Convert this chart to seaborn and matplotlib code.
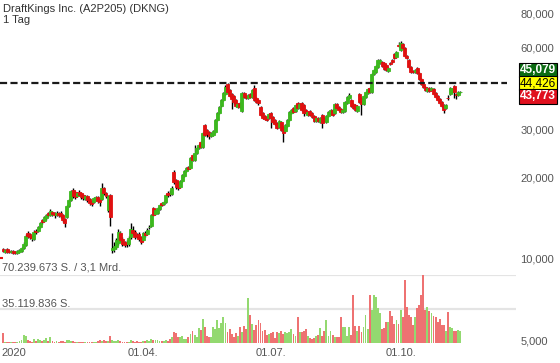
import numpy as np
import pandas as pd
import matplotlib
matplotlib.use("Agg")
import matplotlib.pyplot as plt
import matplotlib.transforms as mtransforms
from matplotlib.ticker import NullLocator
import seaborn as sns

# daily candles, one per trading day (late Dec 2019 .. Nov 2020)
opens = [
    10.86, 10.59, 10.86, 10.68, 10.59, 10.68, 10.59, 10.50, 10.59, 10.68,
    10.95, 11.23, 12.44, 12.33, 12.12, 11.82, 12.65, 12.65, 13.09, 13.89,
    13.77, 14.13, 14.74, 14.49, 14.87, 14.74, 14.49, 14.74, 14.74, 14.49,
    14.01, 14.25, 15.65, 16.46, 17.92, 17.62, 17.03, 17.62, 17.47, 17.18,
    16.61, 17.03, 16.61, 16.33, 16.19, 16.46, 16.89, 16.61, 16.61, 18.23,
    17.47, 15.12, 17.18, 10.77, 10.86, 11.04, 11.42, 12.44, 11.82, 11.52,
    11.42, 11.33, 12.02, 12.76, 12.54, 12.23, 12.33, 12.02, 11.72, 12.44,
    12.33, 13.05, 13.20, 15.38, 14.62, 14.74, 15.25, 16.05, 15.91, 16.19,
    17.47, 17.47, 17.33, 20.88, 19.51, 19.18, 18.39, 19.35, 20.19, 21.06,
    21.79, 21.60, 24.13, 23.12, 24.54, 25.60, 26.94, 25.82, 31.12, 29.83,
    29.32, 28.35, 28.59, 29.32, 32.47, 34.46, 36.57, 38.48, 40.49, 44.09,
    41.89, 40.49, 39.81, 38.48, 36.26, 37.52, 35.05, 40.84, 39.81, 39.14,
    40.49, 39.48, 42.61, 39.14, 38.48, 36.26, 34.46, 33.59, 33.31, 33.03,
    34.46, 33.31, 32.47, 31.65, 30.60, 31.92, 30.60, 29.57, 30.86, 32.47,
    34.46, 35.96, 35.05, 37.52, 35.96, 37.52, 36.88, 35.35, 33.88, 35.05,
    34.46, 33.59, 32.20, 33.03, 31.92, 33.88, 33.03, 31.92, 33.59, 34.17,
    35.35, 34.46, 37.20, 36.26, 35.65, 34.75, 35.05, 37.52, 39.14, 38.48,
    37.20, 36.88, 35.05, 40.49, 39.14, 37.20, 39.48, 40.84, 42.61, 41.19,
    47.99, 48.81, 50.92, 52.68, 53.13, 52.68, 51.80, 49.23, 52.68, 54.04,
    56.87, 55.44, 61.38, 58.83, 61.91, 59.84, 55.91, 54.04, 50.92, 49.23,
    48.81, 50.49, 48.40, 45.99, 44.09, 42.98, 41.54, 42.61, 41.89, 42.25,
    40.84, 39.81, 38.81, 37.84, 36.88, 35.96, 39.14, 40.49, 41.19, 43.34,
    40.49, 40.15, 41.19,
]
highs = [
    10.95, 10.86, 10.95, 10.77, 10.77, 10.77, 10.68, 10.77, 10.86, 11.04,
    11.52, 12.33, 12.65, 12.44, 12.23, 12.76, 12.86, 13.20, 13.66, 14.01,
    14.37, 14.62, 14.87, 15.25, 14.99, 14.87, 14.99, 14.87, 14.99, 14.62,
    14.13, 15.78, 16.61, 17.92, 18.23, 17.77, 17.62, 17.92, 17.62, 17.33,
    17.18, 17.18, 16.75, 16.46, 16.89, 17.03, 17.03, 16.75, 19.02, 18.39,
    17.62, 17.18, 17.33, 12.44, 11.52, 11.92, 12.86, 12.65, 12.02, 11.62,
    11.72, 12.12, 13.54, 13.20, 12.76, 12.44, 12.54, 12.12, 12.54, 12.65,
    12.97, 13.31, 14.62, 15.51, 15.25, 15.51, 15.91, 16.19, 16.33, 17.33,
    17.77, 17.92, 18.54, 21.24, 19.68, 19.35, 19.51, 20.53, 21.24, 21.79,
    21.97, 23.72, 24.33, 26.26, 25.82, 26.49, 27.17, 29.32, 31.39, 30.08,
    29.57, 29.32, 29.83, 32.75, 34.75, 36.57, 38.81, 41.19, 43.71, 44.46,
    42.25, 40.84, 40.15, 38.81, 37.52, 37.84, 41.19, 41.19, 40.15, 40.49,
    40.84, 42.25, 43.71, 39.48, 38.81, 36.57, 34.75, 33.88, 33.59, 34.46,
    34.75, 33.59, 32.75, 31.92, 32.47, 32.20, 30.86, 31.39, 32.75, 35.05,
    35.65, 36.26, 37.20, 37.84, 37.52, 37.84, 37.20, 35.65, 35.05, 35.35,
    34.75, 33.88, 33.31, 33.31, 33.31, 34.17, 33.31, 33.88, 35.05, 35.65,
    35.65, 37.52, 37.52, 36.57, 35.96, 35.65, 38.16, 39.81, 40.84, 38.81,
    37.52, 37.20, 36.88, 40.84, 39.48, 40.15, 41.54, 42.61, 42.98, 48.40,
    50.07, 51.80, 54.50, 54.50, 53.59, 53.13, 52.24, 50.92, 53.13, 54.50,
    57.35, 58.33, 62.97, 63.51, 62.44, 60.35, 56.39, 54.50, 51.36, 49.64,
    50.07, 50.92, 48.81, 46.39, 44.46, 43.34, 42.98, 42.98, 42.98, 42.61,
    41.19, 40.15, 39.14, 38.16, 37.20, 37.20, 40.15, 42.98, 42.61, 43.71,
    40.84, 41.54, 41.54,
]
lows = [
    10.60, 10.50, 10.50, 10.50, 10.50, 10.42, 10.40, 10.42, 10.50, 10.60,
    10.86, 11.14, 11.92, 11.82, 11.62, 11.72, 12.33, 12.54, 12.97, 13.42,
    13.66, 13.89, 14.25, 14.37, 14.37, 14.13, 14.37, 14.25, 14.13, 13.66,
    13.09, 14.13, 15.51, 16.33, 16.75, 16.61, 16.89, 17.03, 16.61, 16.46,
    16.46, 16.19, 15.78, 15.65, 16.05, 16.33, 16.05, 15.65, 16.46, 17.18,
    16.75, 14.87, 13.20, 10.50, 10.59, 10.86, 11.23, 11.52, 11.14, 11.04,
    11.04, 11.14, 11.82, 12.23, 11.82, 11.92, 11.62, 11.33, 11.62, 12.02,
    12.23, 12.86, 13.09, 14.37, 14.49, 14.62, 15.12, 15.65, 15.78, 16.05,
    16.89, 17.03, 17.18, 18.86, 18.08, 17.92, 18.23, 19.18, 20.01, 20.88,
    21.24, 21.42, 22.93, 22.93, 24.33, 25.39, 25.60, 25.60, 28.35, 28.11,
    27.63, 28.11, 28.35, 29.08, 32.20, 34.17, 36.26, 38.16, 40.15, 40.84,
    39.48, 35.50, 37.20, 36.26, 35.96, 35.96, 34.75, 39.14, 38.81, 38.81,
    39.14, 39.14, 38.16, 37.52, 36.88, 33.59, 32.75, 32.47, 32.20, 32.75,
    30.34, 31.65, 31.12, 30.08, 30.34, 29.57, 26.94, 29.32, 30.60, 32.20,
    34.17, 34.46, 34.75, 35.65, 35.65, 35.05, 33.59, 34.17, 33.59, 33.59,
    33.03, 31.92, 31.92, 31.92, 31.65, 30.34, 31.92, 31.65, 33.31, 33.88,
    33.59, 34.17, 35.65, 35.05, 34.46, 34.46, 34.75, 37.20, 38.81, 36.26,
    35.65, 35.05, 34.75, 37.52, 33.88, 36.88, 39.14, 40.49, 40.84, 40.84,
    47.58, 48.40, 50.49, 52.24, 50.92, 49.64, 49.23, 48.81, 51.80, 52.68,
    54.50, 54.97, 60.35, 58.33, 59.33, 55.44, 54.50, 50.49, 48.40, 48.40,
    48.40, 47.99, 45.60, 43.71, 42.61, 41.54, 41.19, 41.19, 41.54, 40.15,
    39.14, 38.16, 37.20, 36.26, 34.46, 35.65, 38.48, 40.15, 40.84, 39.14,
    38.81, 39.81, 40.84,
]
closes = [
    10.68, 10.77, 10.59, 10.59, 10.68, 10.50, 10.50, 10.68, 10.77, 10.95,
    11.33, 12.12, 12.12, 12.02, 11.92, 12.54, 12.54, 13.09, 13.54, 13.66,
    14.25, 14.49, 14.49, 14.99, 14.62, 14.49, 14.74, 14.49, 14.37, 13.89,
    13.54, 15.65, 16.46, 17.77, 17.03, 16.89, 17.47, 17.18, 16.89, 16.75,
    17.03, 16.46, 16.05, 15.91, 16.75, 16.89, 16.33, 16.19, 18.23, 17.47,
    17.03, 17.03, 14.25, 10.95, 11.14, 11.72, 12.54, 11.72, 11.33, 11.23,
    11.33, 11.92, 12.86, 12.44, 12.02, 12.12, 11.82, 11.52, 12.44, 12.23,
    12.76, 13.12, 14.49, 14.49, 15.12, 15.38, 15.78, 15.78, 16.19, 17.18,
    17.18, 17.33, 18.23, 19.18, 18.39, 18.23, 19.35, 20.36, 21.06, 21.60,
    21.42, 23.52, 23.12, 24.54, 25.60, 26.26, 25.82, 29.08, 28.59, 28.83,
    28.35, 29.08, 29.57, 32.47, 34.46, 36.26, 38.48, 40.84, 42.98, 41.19,
    39.81, 38.81, 37.84, 36.57, 37.20, 36.26, 40.84, 39.48, 39.14, 40.15,
    39.48, 41.89, 38.48, 37.84, 37.52, 33.88, 33.03, 32.75, 32.47, 34.17,
    33.03, 31.92, 31.39, 30.34, 32.20, 29.83, 29.08, 31.12, 32.47, 34.75,
    35.35, 34.75, 36.88, 35.96, 37.20, 35.35, 34.46, 34.46, 34.75, 33.88,
    33.31, 32.20, 33.03, 32.20, 33.03, 31.65, 32.20, 33.59, 34.75, 35.35,
    33.88, 37.20, 35.96, 35.35, 34.75, 35.35, 37.84, 39.48, 40.15, 36.57,
    35.96, 35.35, 36.57, 37.84, 37.20, 39.81, 41.19, 42.25, 41.19, 47.99,
    49.64, 51.36, 54.04, 54.04, 51.36, 50.07, 49.64, 50.49, 52.24, 53.13,
    54.97, 57.84, 60.86, 62.44, 59.84, 55.91, 54.97, 50.92, 48.81, 48.81,
    49.64, 48.40, 45.99, 44.09, 42.98, 41.89, 42.61, 41.54, 42.61, 40.49,
    39.48, 38.48, 37.52, 36.57, 35.35, 36.88, 39.00, 42.61, 42.25, 41.19,
    40.15, 41.19, 41.30,
]
# volume in million shares
volumes_mio = [
    10.0, 1.5, 1.2, 1.0, 1.2, 1.0, 0.8, 1.5, 2.0, 3.0,
    8.0, 7.5, 3.0, 2.5, 1.5, 4.5, 2.0, 4.0, 3.5, 2.0,
    3.0, 5.0, 2.0, 6.0, 2.5, 1.5, 2.0, 1.5, 2.0, 2.5,
    1.5, 3.5, 3.0, 2.5, 2.0, 1.5, 1.5, 1.2, 1.0, 1.5,
    1.0, 1.5, 1.2, 1.0, 1.2, 1.5, 2.0, 3.0, 2.5, 3.5,
    2.5, 2.0, 7.0, 3.0, 2.0, 2.5, 3.0, 2.0, 1.5, 1.5,
    1.2, 1.5, 3.0, 2.0, 1.5, 2.0, 1.5, 1.5, 2.5, 2.0,
    3.0, 2.5, 4.0, 3.5, 3.0, 3.0, 2.5, 2.0, 2.0, 3.0,
    2.5, 4.0, 6.0, 11.0, 10.0, 6.0, 6.5, 7.0, 4.0, 4.5,
    6.0, 9.0, 12.0, 8.0, 6.0, 16.0,
    13.4, 24.8, 16.5, 7.2, 6.2, 6.2, 16.5, 14.5, 23.8, 15.5,
    20.7, 26.9, 20.7, 11.4, 14.5, 9.3, 6.2, 10.3, 7.2, 16.5,
    11.4, 17.6, 14.5, 46.5, 28.9, 19.6, 13.4, 18.6, 23.8, 20.7,
    12.4, 13.4, 8.3, 9.3, 10.3, 11.4, 5.2, 11.4, 10.3, 12.4,
    9.3, 11.4, 10.3, 11.4, 14.5, 9.3, 7.2, 26.9, 11.4, 11.4,
    12.4, 14.5, 7.2, 5.2, 4.1, 5.2, 7.2, 8.3, 15.5, 7.2,
    12.4, 23.8, 7.2, 12.4, 8.3, 6.2, 6.2, 6.2, 26.9, 16.5,
    16.5, 7.2, 16.5, 8.3, 49.6, 17.6, 12.4, 17.6, 11.4, 16.5,
    28.9, 14.5, 49.6, 34.1, 49.6, 47.5, 36.2, 31.0, 14.5, 15.5,
    21.7, 21.7, 33.1, 27.9, 19.6, 23.8, 19.6, 34.1, 26.9, 65.1,
    37.2, 28.9, 26.9, 18.6, 26.9, 36.2, 39.3, 49.6, 70.24, 34.1,
    37.2, 33.1, 31.0, 27.9, 26.9, 21.7, 24.8, 18.6, 18.6, 12.4,
    32.0, 16.5, 15.5, 12.4, 12.4, 13.4, 12.4,
]

month_ticks = [5.3, 68, 130, 193.4]   # bar index of the month starts
month_labels = ["2020", "01.04.", "01.07.", "01.10."]
price_ticks = [5, 10, 20, 30, 60, 80]
quote_values = ["45,079", "44,426", "43,773"]
last_price = 44.426
prev_marker = 10.03
vol_max = 70239673

sns.set_theme(style="white")
plt.rcParams["font.family"] = ["Liberation Sans", "DejaVu Sans"]

df = pd.DataFrame({
    "day": np.arange(len(closes)),
    "open": opens, "high": highs, "low": lows, "close": closes,
    "vol": np.array(volumes_mio) * 1e6,
})
df["dir"] = np.where(df["close"] >= df["open"], "up", "down")

W, H = 560, 363
fig = plt.figure(figsize=(W / 100, H / 100), dpi=100)
xlim = (-3 / 2.06, (516 - 3) / 2.06)

# volume panel (underneath)
axv = fig.add_axes([0, (H - 343) / H, 516 / W, 68 / H])
axv.axhline(vol_max, color="#e4e4e4", lw=1.6, zorder=0)
axv.axhline(vol_max / 2, color="#e4e4e4", lw=1.6, zorder=0)
sns.barplot(data=df, x="day", y="vol", hue="dir", hue_order=["up", "down"],
            palette={"up": "#93d970", "down": "#ee7272"}, native_scale=True,
            dodge=False, width=0.9, errorbar=None, saturation=1, legend=False,
            linewidth=0, ax=axv)
axv.set_xlim(*xlim)
axv.set_ylim(0, vol_max)
axv.axis("off")
trv = mtransforms.blended_transform_factory(axv.transAxes, axv.transData)
axv.text(2 / 516, vol_max, "70.239.673 S. / 3,1 Mrd.", fontsize=8, color="#555555",
         va="baseline", transform=mtransforms.offset_copy(trv, fig=fig, y=3, units="points"))
axv.text(2 / 516, vol_max / 2, "35.119.836 S.", fontsize=8, color="#555555",
         va="baseline", transform=mtransforms.offset_copy(trv, fig=fig, y=1.6, units="points"))

# price panel
ax = fig.add_axes([0, (H - 345) / H, 516 / W, 345 / H])
ax.patch.set_alpha(0)
ax.set_yscale("log")
up_col, down_col = "#3cb81e", "#e01010"
colors = np.where(df["dir"] == "up", up_col, down_col)
ax.vlines(df["day"], df["low"], df["high"], color="black", lw=1, zorder=2)
body_lo = np.minimum(df["open"], df["close"])
body_h = np.abs(df["close"] - df["open"])
ax.bar(df["day"], body_h, bottom=body_lo, width=1.45, color=colors,
       edgecolor=colors, linewidth=0.6, zorder=3)
ax.axhline(last_price, xmin=0, xmax=507 / 516, color="#1a1a1a", lw=1.6,
           dashes=(3.2, 1.5), zorder=4)
ax.hlines(prev_marker, xlim[0], 0, color="#e01010", lw=1.5, zorder=4)

ax.set_xlim(*xlim)
ax.set_ylim(4.80, 90.0)
for s in ax.spines.values():
    s.set_visible(False)
ax.yaxis.tick_right()
ax.set_yticks(price_ticks)
ax.set_yticklabels([f"{v:.3f}".replace(".", ",") for v in price_ticks])
ax.yaxis.set_minor_locator(NullLocator())
ax.set_xticks(month_ticks)
ax.set_xticklabels(month_labels)
ax.tick_params(axis="both", length=0, labelsize=8, labelcolor="#555555")
ax.tick_params(axis="y", pad=3)
ax.tick_params(axis="x", pad=2.5)
ax.grid(False)

# quote boxes at the right
trq = mtransforms.blended_transform_factory(ax.transAxes, ax.transData)
styles = [("#0b6b12", "white", 9.6), ("#ffff00", "black", 0), ("#e0101e", "white", -9.6)]
for label, (bg, fg, dy) in zip(quote_values, styles):
    ax.text(1 + 4 / 516, last_price, label, fontsize=8.5, color=fg, ha="left", va="center",
            fontweight="bold" if fg == "white" else "normal",
            bbox=dict(boxstyle="square,pad=0.1", fc=bg, ec="black", lw=0.8),
            transform=mtransforms.offset_copy(trq, fig=fig, y=dy, units="points"),
            clip_on=False, zorder=6)

fig.text(3 / W, 1 - 9 / H, "DraftKings Inc. (A2P205) (DKNG)", fontsize=8,
         color="#333333", va="center")
fig.text(3 / W, 1 - 20 / H, "1 Tag", fontsize=8, color="#333333", va="center")

fig.savefig("out.png", dpi=100)
